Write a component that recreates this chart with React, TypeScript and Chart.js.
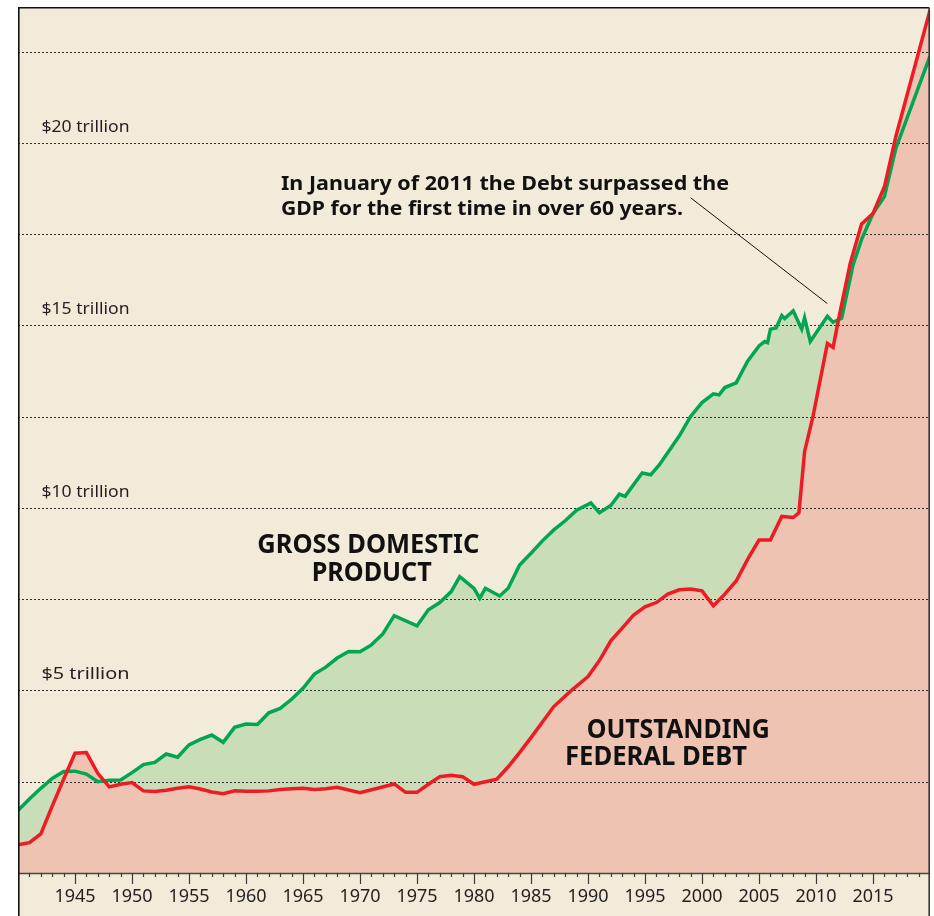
import React, { useEffect, useRef } from "react";
import { Chart, registerables } from "chart.js";

Chart.register(...registerables);

// ---------- DATA (trillions of dollars) ----------
const gdpYears = [
  1940, 1941, 1942, 1943, 1944, 1945, 1946, 1947, 1948, 1949,
  1950, 1951, 1952, 1953, 1954, 1955, 1956, 1957, 1958, 1959,
  1960, 1961, 1962, 1963, 1964, 1965, 1966, 1967, 1968, 1969,
  1970, 1971, 1972, 1973, 1975, 1976, 1977, 1978, 1978.75, 1980,
  1980.5, 1981, 1982.25, 1983, 1984, 1985, 1986, 1987, 1988, 1989,
  1990.25, 1991, 1992, 1992.75, 1993.25, 1994.75, 1995.5, 1996.25, 1998, 1999,
  2000, 2001, 2001.5, 2002, 2003, 2004, 2005, 2005.5, 2005.75, 2006,
  2006.5, 2007, 2007.25, 2008, 2008.75, 2009, 2009.5, 2011, 2011.5, 2012.25,
  2013.25, 2014, 2015, 2016, 2017, 2020,
];
const gdpValues = [
  1.71, 2.03, 2.32, 2.59, 2.78, 2.79, 2.71, 2.5, 2.54, 2.55,
  2.75, 2.97, 3.03, 3.26, 3.17, 3.51, 3.66, 3.78, 3.58, 3.99,
  4.08, 4.07, 4.39, 4.51, 4.76, 5.06, 5.45, 5.64, 5.89, 6.07,
  6.06, 6.25, 6.55, 7.05, 6.77, 7.21, 7.41, 7.71, 8.12, 7.8,
  7.53, 7.8, 7.59, 7.8, 8.44, 8.76, 9.1, 9.4, 9.65, 9.94,
  10.14, 9.87, 10.07, 10.38, 10.32, 10.96, 10.91, 11.18, 11.97, 12.51,
  12.89, 13.13, 13.1, 13.3, 13.43, 14.02, 14.44, 14.56, 14.53, 14.9,
  14.93, 15.27, 15.19, 15.4, 14.9, 15.21, 14.56, 15.25, 15.09, 15.2,
  16.66, 17.36, 18.07, 18.53, 19.85, 22.38,
];

const debtYears = [
  1940, 1941, 1942, 1943, 1944, 1945, 1946, 1947, 1948, 1949,
  1950, 1951, 1952, 1953, 1954, 1955, 1956, 1957, 1958, 1959,
  1960, 1961, 1962, 1963, 1964, 1965, 1966, 1967, 1968, 1970,
  1973, 1974, 1975, 1976, 1977, 1978, 1979, 1980, 1981, 1982,
  1983, 1984, 1985, 1987, 1988.5, 1990, 1991, 1992, 1993, 1994,
  1995, 1996, 1997, 1998, 1999, 2000, 2001, 2002, 2003, 2004,
  2005, 2006, 2007, 2008, 2008.5, 2009, 2009.75, 2011, 2011.5, 2012,
  2013, 2014, 2015, 2016, 2017, 2020,
];
const debtValues = [
  0.77, 0.83, 1.07, 1.83, 2.57, 3.28, 3.3, 2.73, 2.36, 2.43,
  2.48, 2.25, 2.23, 2.27, 2.32, 2.36, 2.3, 2.22, 2.17, 2.25,
  2.24, 2.24, 2.25, 2.29, 2.31, 2.32, 2.29, 2.31, 2.35, 2.2,
  2.44, 2.21, 2.21, 2.43, 2.64, 2.68, 2.64, 2.43, 2.5, 2.57,
  2.91, 3.3, 3.71, 4.56, 4.99, 5.38, 5.82, 6.36, 6.71, 7.07,
  7.29, 7.41, 7.64, 7.76, 7.78, 7.73, 7.32, 7.64, 8.0, 8.59,
  9.12, 9.12, 9.77, 9.74, 9.87, 11.55, 12.53, 14.51, 14.4, 15.2,
  16.7, 17.78, 18.07, 18.8, 20.17, 23.64,
];

const gridValues = [2.5, 5, 7.5, 10, 12.5, 15, 17.5, 20, 22.5];
const labeledValues = [5, 10, 15, 20];
const yearLabels = [1945, 1950, 1955, 1960, 1965, 1970, 1975, 1980, 1985, 1990, 1995, 2000, 2005, 2010, 2015];
const X_MIN = 1940;
const X_MAX = 2020;
const Y_MAX = 23.726;

const annotationLines = [
  "In January of 2011 the Debt surpassed the",
  "GDP for the first time in over 60 years.",
];
const gdpLabel = ["GROSS DOMESTIC", "PRODUCT"];
const debtLabel = ["OUTSTANDING", "FEDERAL DEBT"];
// annotation pointer: from (year, value) to (year, value)
const pointerFrom = [1999, 18.5];
const pointerTo = [2011, 15.6];

// ---------- STYLE ----------
const BEIGE = "#F2EBD9";
const PINK = "#EEC3B2";
const LIGHT_GREEN = "#C9DDB9";
const RED = "#ED1C24";
const GREEN = "#00A651";
const TEXT = "#231F20";
const FONT = '"Noto Sans", "DejaVu Sans", sans-serif';

const toPoints = (xs: number[], ys: number[]) => xs.map((x, i) => ({ x, y: ys[i] }));

function fitText(
  ctx: CanvasRenderingContext2D,
  text: string,
  x: number,
  y: number,
  width: number,
  align: CanvasTextAlign
) {
  const w = ctx.measureText(text).width;
  const s = w > 0 ? width / w : 1;
  ctx.save();
  ctx.translate(x, y);
  ctx.scale(s, 1);
  ctx.textAlign = align;
  ctx.textBaseline = "alphabetic";
  ctx.fillText(text, 0, 0);
  ctx.restore();
}

const decorPlugin = {
  id: "decor",
  beforeDatasetsDraw(chart: any) {
    const { ctx, chartArea: a, scales } = chart;
    const y = scales.y;
    ctx.save();
    ctx.strokeStyle = "#2e2e2e";
    ctx.lineWidth = 1;
    ctx.setLineDash([2, 2]);
    for (const v of gridValues) {
      const py = Math.round(y.getPixelForValue(v)) + 0.5;
      ctx.beginPath();
      ctx.moveTo(a.left, py);
      ctx.lineTo(a.right, py);
      ctx.stroke();
    }
    ctx.restore();
  },
  afterDraw(chart: any) {
    const { ctx, chartArea: a, scales } = chart;
    const x = scales.x;
    const y = scales.y;
    ctx.save();

    // bottom axis line
    ctx.strokeStyle = "#4a4540";
    ctx.lineWidth = 1.4;
    ctx.beginPath();
    ctx.moveTo(a.left, a.bottom + 0.5);
    ctx.lineTo(a.right, a.bottom + 0.5);
    ctx.stroke();

    // ticks
    ctx.strokeStyle = "#3a3a3a";
    ctx.lineWidth = 1.2;
    for (let yr = X_MIN + 1; yr < X_MAX; yr++) {
      const px = Math.round(x.getPixelForValue(yr)) + 0.5;
      const len = yr % 5 === 0 ? 11 : 4;
      ctx.beginPath();
      ctx.moveTo(px, a.bottom);
      ctx.lineTo(px, a.bottom + len);
      ctx.stroke();
    }

    // year labels
    ctx.fillStyle = TEXT;
    ctx.font = `18px ${FONT}`;
    ctx.textAlign = "center";
    ctx.textBaseline = "alphabetic";
    for (const yr of yearLabels) {
      ctx.fillText(String(yr), x.getPixelForValue(yr), a.bottom + 29);
    }

    // value labels
    ctx.font = `17px ${FONT}`;
    ctx.textAlign = "left";
    for (const v of labeledValues) {
      fitText(ctx, `$${v} trillion`, a.left + 23.5, y.getPixelForValue(v) - 11, 88, "left");
    }

    // annotation text
    ctx.fillStyle = "#111";
    ctx.font = `bold 20px ${FONT}`;
    fitText(ctx, annotationLines[0], 264, 184, 448, "left");
    fitText(ctx, annotationLines[1], 264, 209, 402, "left");

    // pointer line
    ctx.strokeStyle = "#111";
    ctx.lineWidth = 1;
    ctx.beginPath();
    ctx.moveTo(x.getPixelForValue(pointerFrom[0]), y.getPixelForValue(pointerFrom[1]));
    ctx.lineTo(x.getPixelForValue(pointerTo[0]), y.getPixelForValue(pointerTo[1]));
    ctx.stroke();

    // series labels
    ctx.font = `bold 26px ${FONT}`;
    fitText(ctx, gdpLabel[0], 351.3, 547, 222, "center");
    fitText(ctx, gdpLabel[1], 354.7, 575, 120, "center");
    ctx.font = `bold 27px ${FONT}`;
    fitText(ctx, debtLabel[0], 569.7, 732, 183, "left");
    fitText(ctx, debtLabel[1], 548, 758.6, 182, "left");

    // frame
    ctx.strokeStyle = "#111";
    ctx.lineWidth = 1.6;
    ctx.beginPath();
    ctx.moveTo(a.left + 0.8, chart.height);
    ctx.lineTo(a.left + 0.8, a.top + 0.8);
    ctx.lineTo(a.right - 0.8, a.top + 0.8);
    ctx.stroke();
    ctx.strokeStyle = "#3b3530";
    ctx.beginPath();
    ctx.moveTo(a.right - 0.8, a.top + 0.8);
    ctx.lineTo(a.right - 0.8, chart.height);
    ctx.stroke();

    ctx.restore();
  },
};

export default function App() {
  const canvasRef = useRef<HTMLCanvasElement | null>(null);

  useEffect(() => {
    const canvas = canvasRef.current;
    if (!canvas) return;
    const debtPts = toPoints(debtYears, debtValues);
    const gdpPts = toPoints(gdpYears, gdpValues);
    const chart = new Chart(canvas, {
      type: "line",
      data: {
        datasets: [
          {
            label: "Outstanding Federal Debt",
            data: debtPts,
            borderColor: RED,
            borderWidth: 3.5,
            fill: false,
            pointRadius: 0,
            tension: 0,
          },
          {
            label: "Gross Domestic Product",
            data: gdpPts,
            borderColor: GREEN,
            borderWidth: 3.5,
            fill: false,
            pointRadius: 0,
            tension: 0,
          },
          {
            label: "debt area",
            data: debtPts,
            borderColor: "transparent",
            borderWidth: 0,
            backgroundColor: PINK,
            fill: "origin",
            pointRadius: 0,
            tension: 0,
          },
          {
            label: "gdp area",
            data: gdpPts,
            borderColor: "transparent",
            borderWidth: 0,
            backgroundColor: LIGHT_GREEN,
            fill: "origin",
            pointRadius: 0,
            tension: 0,
          },
        ],
      },
      options: {
        animation: false,
        responsive: false,
        devicePixelRatio: 1,
        parsing: true,
        layout: { padding: { left: 1, top: 1, right: 1, bottom: 43 } },
        scales: {
          x: { type: "linear", min: X_MIN, max: X_MAX, display: false },
          y: { type: "linear", min: 0, max: Y_MAX, display: false },
        },
        plugins: {
          legend: { display: false },
          tooltip: { enabled: false },
          filler: { drawTime: "beforeDraw" },
        },
        elements: { point: { radius: 0 }, line: { borderJoinStyle: "miter" } },
      } as any,
      plugins: [decorPlugin],
    });
    return () => chart.destroy();
  }, []);

  return (
    <div
      style={{
        position: "absolute",
        left: 0,
        top: 0,
        width: 934,
        height: 916,
        background: "#ffffff",
        overflow: "hidden",
      }}
    >
      <div
        style={{
          position: "absolute",
          left: 18,
          top: 7,
          width: 912,
          height: 909,
          background: BEIGE,
        }}
      />
      <canvas
        ref={canvasRef}
        width={914}
        height={910}
        style={{ position: "absolute", left: 17, top: 6, width: 914, height: 910 }}
      />
    </div>
  );
}
